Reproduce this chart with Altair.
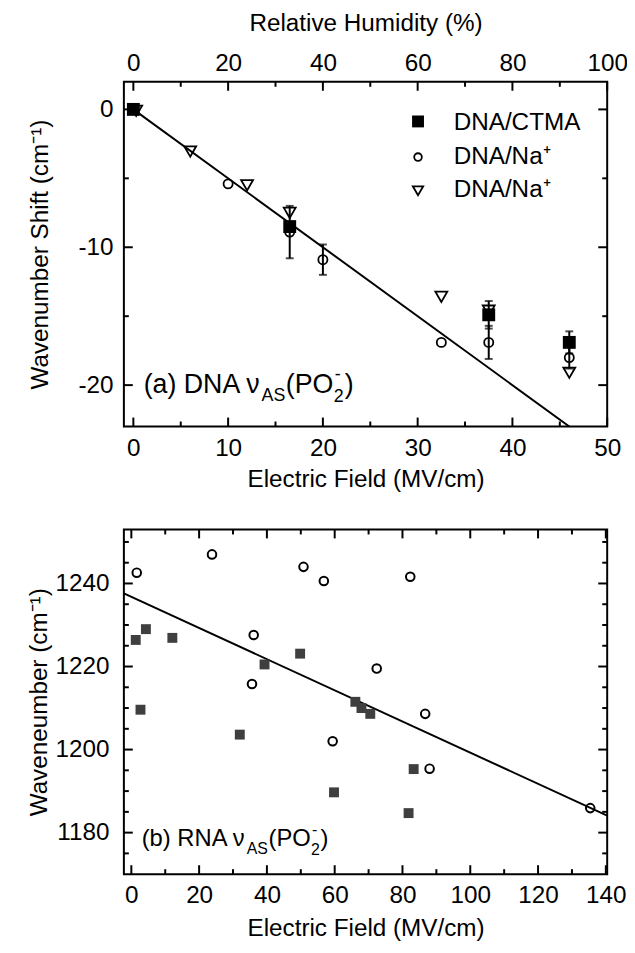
import altair as alt
import pandas as pd

FONT = "Liberation Sans"
FS = 24.5
W, H = 488, 348

# ---------------- panel (a) data ----------------
ctma_field = [0, 16.5, 37.5, 46]
ctma_shift = [0, -8.5, -14.9, -16.9]
ctma_err = [0, 0, 1.0, 0.8]

na_circ_field = [0, 10, 16.5, 20, 32.5, 37.5, 46]
na_circ_shift = [0, -5.4, -8.9, -10.9, -16.9, -16.9, -18.0]
na_circ_err = [0, 0, 1.9, 1.1, 0, 1.2, 0.8]

na_tri_field = [0.3, 6, 12, 16.5, 32.5, 37.5, 46]
na_tri_shift = [-0.1, -3.05, -5.5, -7.5, -13.6, -14.6, -19.1]

fit_a_field = [0, 46]
fit_a_shift = [0, -23]

a_x_major = [0, 10, 20, 30, 40, 50]
a_x_minor = [5, 15, 25, 35, 45]
a_rh_major = [0, 20, 40, 60, 80, 100]
a_rh_minor = [10, 30, 50, 70, 90]
a_y_major = [-20, -10, 0]
a_y_minor = [-15, -5]

# ---------------- panel (b) data ----------------
rna_circ_field = [1.6, 23.8, 35.6, 36.1, 50.8, 56.8, 59.4, 72.4, 82.3, 86.7, 88.0, 135.4]
rna_circ_wn = [1242.6, 1247.0, 1215.8, 1227.6, 1244.0, 1240.6, 1202.0, 1219.5, 1241.6, 1208.6, 1195.4, 1185.9]

rna_sq_field = [1.3, 2.7, 4.3, 12.1, 32.0, 39.3, 49.8, 59.8, 66.1, 67.9, 70.5, 81.8, 83.3]
rna_sq_wn = [1226.4, 1209.6, 1229.0, 1226.9, 1203.6, 1220.5, 1223.1, 1189.7, 1211.5, 1210.0, 1208.6, 1184.7, 1195.3]

fit_b_field = [-2.2, 140.4]
fit_b_wn = [1237.6, 1184.1]

b_x_major = [0, 20, 40, 60, 80, 100, 120, 140]
b_x_minor = [10, 30, 50, 70, 90, 110, 130]
b_y_major = [1180, 1200, 1220, 1240]
b_y_minor = [1175, 1185, 1190, 1195, 1205, 1210, 1215, 1225, 1230, 1235, 1245, 1250]

MAJ, MIN = 9, 5
one = pd.DataFrame({"k": [0]})


def txt(s, x, y, size=FS):
    return alt.Chart(one).mark_text(
        text=s, font=FONT, fontSize=size, align="left", baseline="alphabetic", color="black"
    ).encode(x=alt.value(x), y=alt.value(y))


def rules(vals, enc_fn, orient, length):
    df = pd.DataFrame({"v": vals})
    base = alt.Chart(df).mark_rule(color="black", strokeWidth=2)
    if orient == "bottom":
        return base.encode(x=enc_fn("v"), y=alt.value(H), y2=alt.value(H - length))
    if orient == "top":
        return base.encode(x=enc_fn("v"), y=alt.value(0), y2=alt.value(length))
    if orient == "left":
        return base.encode(y=enc_fn("v"), x=alt.value(0), x2=alt.value(length))
    return base.encode(y=enc_fn("v"), x=alt.value(W), x2=alt.value(W - length))


def axis(values, title, orient, label_pad, title_pad, **kw):
    return alt.Axis(
        values=values, title=title, orient=orient, ticks=False, tickSize=0, domain=False,
        grid=False, labelPadding=label_pad, titlePadding=title_pad, labelFlush=False,
        labelOverlap=False, labelFont=FONT, labelFontSize=FS, titleFont=FONT,
        titleFontSize=FS, titleFontWeight="normal", labelColor="black", titleColor="black",
        **kw,
    )


# ---------------- panel (a) ----------------
xa_scale = alt.Scale(domain=[-1, 50], nice=False, zero=False)
ya_scale = alt.Scale(domain=[-23, 2], nice=False, zero=False)
rh_scale = alt.Scale(domain=[-2, 100], nice=False, zero=False)
xa_axis = axis(a_x_major, "Electric Field (MV/cm)", "bottom", 10, 8)
ya_axis = axis(a_y_major, "Wavenumber Shift (cm⁻¹)", "left", 11, 26,
               labelExpr="datum.value < 0 ? '-' + abs(datum.value) : '' + datum.value")
rh_axis = axis(a_rh_major, "Relative Humidity (%)", "top", 6, 16)


def xa(f):
    return alt.X(f, type="quantitative", scale=xa_scale, axis=xa_axis)


def ya(f):
    return alt.Y(f, type="quantitative", scale=ya_scale, axis=ya_axis)


def rh(f):
    return alt.X(f, type="quantitative", scale=rh_scale, axis=rh_axis)


ctma = pd.DataFrame({"f": ctma_field, "s": ctma_shift, "e": ctma_err})
ncirc = pd.DataFrame({"f": na_circ_field, "s": na_circ_shift, "e": na_circ_err})
ntri = pd.DataFrame({"f": na_tri_field, "s": na_tri_shift})
fita = pd.DataFrame({"f": fit_a_field, "s": fit_a_shift})

err = pd.concat([ctma, ncirc])
err = err[err["e"] > 0].copy()
err["lo"] = err["s"] - err["e"]
err["hi"] = err["s"] + err["e"]
caps = pd.concat([
    pd.DataFrame({"f": err["f"], "c": err["lo"]}),
    pd.DataFrame({"f": err["f"], "c": err["hi"]}),
])

fit_a = alt.Chart(fita).mark_line(color="black", strokeWidth=2, clip=True).encode(x=xa("f"), y=ya("s"))
err_a = alt.Chart(err).mark_rule(color="black", strokeWidth=2).encode(x=xa("f"), y=ya("lo"), y2=alt.Y2("hi"))
cap_a = alt.Chart(caps).mark_tick(color="black", orient="horizontal", size=8, thickness=2).encode(x=xa("f"), y=ya("c"))
sq_a = alt.Chart(ctma).mark_point(shape="square", filled=True, color="black", size=169, opacity=1).encode(x=xa("f"), y=ya("s"))
ci_a = alt.Chart(ncirc).mark_point(shape="circle", filled=False, color="black", strokeWidth=1.8, size=85, opacity=1).encode(x=xa("f"), y=ya("s"))
tr_a = alt.Chart(ntri).mark_point(shape="triangle-down", filled=False, color="black", strokeWidth=1.8, size=145, opacity=1).encode(x=xa("f"), y=ya("s"))

leg_sq = alt.Chart(one).mark_point(shape="square", filled=True, color="black", size=144, opacity=1).encode(x=alt.value(297), y=alt.value(40))
leg_ci = alt.Chart(one).mark_point(shape="circle", filled=False, color="black", strokeWidth=1.8, size=60, opacity=1).encode(x=alt.value(297), y=alt.value(76))
leg_tr = alt.Chart(one).mark_point(shape="triangle-down", filled=False, color="black", strokeWidth=1.8, size=110, opacity=1).encode(x=alt.value(297), y=alt.value(110))

inner_a = alt.layer(
    fit_a, err_a, cap_a, sq_a, ci_a, tr_a,
    rules(a_x_major, xa, "bottom", MAJ), rules(a_x_minor, xa, "bottom", MIN),
    rules(a_y_major, ya, "left", MAJ), rules(a_y_minor, ya, "left", MIN),
    rules(a_y_major, ya, "right", MAJ), rules(a_y_minor, ya, "right", MIN),
    leg_sq, leg_ci, leg_tr,
    txt("DNA/CTMA", 333, 48.4), txt("DNA/Na⁺", 333, 82.7), txt("DNA/Na⁺", 333, 116.7),
    txt("(a) DNA ν", 20, 314, 27), txt("AS", 139, 322, 18), txt("(PO", 163.5, 314, 27),
    txt("2", 212, 323, 18), txt("-", 213, 301, 18), txt(")", 223, 314, 27),
)
rh_layer = alt.layer(rules(a_rh_major, rh, "top", MAJ), rules(a_rh_minor, rh, "top", MIN))
panel_a = alt.layer(inner_a, rh_layer).resolve_scale(x="independent").properties(width=W, height=H)

# ---------------- panel (b) ----------------
xb_scale = alt.Scale(domain=[-2.2, 140.4], nice=False, zero=False)
yb_scale = alt.Scale(domain=[1170, 1253], nice=False, zero=False)
xb_axis = axis(b_x_major, "Electric Field (MV/cm)", "bottom", 10, 9)
yb_axis = axis(b_y_major, "Waveneumber (cm⁻¹)", "left", 15, 4, format="d")


def xb(f):
    return alt.X(f, type="quantitative", scale=xb_scale, axis=xb_axis)


def yb(f):
    return alt.Y(f, type="quantitative", scale=yb_scale, axis=yb_axis)


rc = pd.DataFrame({"f": rna_circ_field, "w": rna_circ_wn})
rs = pd.DataFrame({"f": rna_sq_field, "w": rna_sq_wn})
fb = pd.DataFrame({"f": fit_b_field, "w": fit_b_wn})

fit_b = alt.Chart(fb).mark_line(color="black", strokeWidth=2, clip=True).encode(x=xb("f"), y=yb("w"))
sq_b = alt.Chart(rs).mark_point(shape="square", filled=True, color="#3f3f3f", size=100, opacity=1).encode(x=xb("f"), y=yb("w"))
ci_b = alt.Chart(rc).mark_point(shape="circle", filled=False, color="black", strokeWidth=2, size=75, opacity=1).encode(x=xb("f"), y=yb("w"))

panel_b = alt.layer(
    fit_b, sq_b, ci_b,
    rules(b_x_major, xb, "bottom", MAJ), rules(b_x_minor, xb, "bottom", MIN),
    rules(b_x_major, xb, "top", MAJ), rules(b_x_minor, xb, "top", MIN),
    rules(b_y_major, yb, "left", MAJ), rules(b_y_minor, yb, "left", MIN),
    rules(b_y_major, yb, "right", MAJ), rules(b_y_minor, yb, "right", MIN),
    txt("(b) RNA ν", 18, 320, 24), txt("AS", 124, 328, 16), txt("(PO", 146, 320, 24),
    txt("2", 189, 329, 16), txt("-", 190, 308, 16), txt(")", 198.5, 320, 24),
).properties(width=W, height=H)

chart = alt.vconcat(panel_a, panel_b, spacing=36).configure(
    padding={"left": 17, "top": -3, "right": -2, "bottom": 0}, background="white"
).configure_view(stroke="black", strokeWidth=2, fill="white")

chart.save("out.html", embed_options={"renderer": "svg", "actions": False})
